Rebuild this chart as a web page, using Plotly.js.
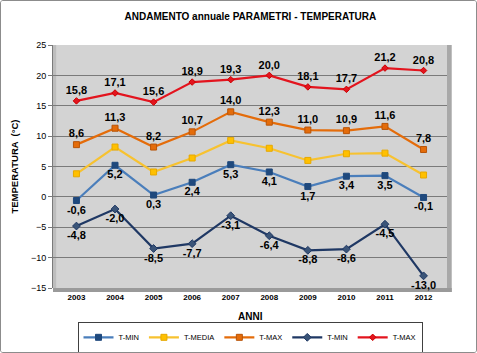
<!DOCTYPE html>
<html>
<head>
<meta charset="utf-8">
<script src="https://cdn.plot.ly/plotly-3.0.1.min.js"></script>
<style>
html,body{margin:0;padding:0;background:#fff;}
#frame{position:absolute;left:0;top:0;width:475px;height:351px;border:1px solid #8c8c8c;border-radius:3px;overflow:hidden;}
#chart{width:475px;height:351px;}
</style>
</head>
<body>
<div id="frame"><div id="chart"></div></div>
<script>
const years = ['2003','2004','2005','2006','2007','2008','2009','2010','2011','2012'];
const tMinAvg = [-0.6, 5.2, 0.3, 2.4, 5.3, 4.1, 1.7, 3.4, 3.5, -0.1];
const tMedia  = [3.8, 8.2, 4.1, 6.4, 9.3, 8.0, 6.0, 7.1, 7.2, 3.6];
const tMaxAvg = [8.6, 11.3, 8.2, 10.7, 14.0, 12.3, 11.0, 10.9, 11.6, 7.8];
const tMinAbs = [-4.8, -2.0, -8.5, -7.7, -3.1, -6.4, -8.8, -8.6, -4.5, -13.0];
const tMaxAbs = [15.8, 17.1, 15.6, 18.9, 19.3, 20.0, 18.1, 17.7, 21.2, 20.8];

const lblFont = {family:'Liberation Sans, Arial, sans-serif', size:11, color:'#000', weight:'bold'};
function series(name, y, lineColor, mColor, mLine, symbol, msize, textpos){
  const t = {
    x: years, y: y, name: name, type:'scatter',
    mode: textpos ? 'lines+markers+text' : 'lines+markers',
    line:{color:lineColor, width:2.2},
    marker:{color:mColor, size:msize, symbol:symbol, line:{color:mLine, width:1}},
    cliponaxis:false
  };
  if(textpos){ t.texttemplate='<b>%{y:.1f}</b>'; t.textposition=textpos; t.textfont=lblFont; }
  return t;
}
const data = [
  series('T-MIN', tMinAvg, '#4a7ebb', '#1f497d', '#1f497d', 'square', 6, 'bottom center'),
  series('T-MEDIA', tMedia, '#f7c230', '#ffc000', '#e6a800', 'square', 6, null),
  series('T-MAX', tMaxAvg, '#e46c0a', '#e46c0a', '#b85408', 'square', 6, 'top center'),
  series('T-MIN', tMinAbs, '#1f3864', '#3a5478', '#1f3864', 'diamond', 6, 'bottom center'),
  series('T-MAX', tMaxAbs, '#e3141e', '#e3141e', '#c00', 'diamond', 5, 'top center')
];
const layout = {
  width:475, height:351,
  margin:{l:52, r:29, t:44, b:64},
  paper_bgcolor:'#ffffff', plot_bgcolor:'#d3d3d3',
  separators:',.',
  font:{family:'Liberation Sans, Arial, sans-serif', size:9, color:'#000'},
  title:{text:'<b>ANDAMENTO annuale PARAMETRI - TEMPERATURA</b>', x:0.525, xanchor:'center', y:0.955, yanchor:'middle', font:{size:10, color:'#000'}},
  xaxis:{type:'category', automargin:false, showgrid:false, zeroline:false, showline:false, ticks:'', ticklabelstandoff:3, tickfont:{size:8, weight:'bold'}, fixedrange:true},
  yaxis:{range:[-15,25], dtick:5, automargin:false, showgrid:true, gridcolor:'#7a7a7a', gridwidth:1, zeroline:false,
    ticks:'outside', ticklen:4, tickcolor:'#7a7a7a', tickfont:{size:9}, showline:true, linecolor:'#7a7a7a',
    title:{text:'<b>TEMPERATURA  (°C)</b>', font:{size:9.5}, standoff:10}, fixedrange:true},
  annotations:[
    {text:'<b>ANNI</b>', xref:'paper', yref:'paper', x:0.5, y:-0.116, xanchor:'center', yanchor:'middle', showarrow:false, font:{size:10}}
  ],
  showlegend:true,
  legend:{orientation:'h', x:0.5, xanchor:'center', yref:'container', y:0.086, yanchor:'top', bordercolor:'#404040', borderwidth:1,
    font:{size:7.5}, itemwidth:30, tracegroupgap:0, bgcolor:'#fff'},
  shapes:[
    {type:'rect', xref:'paper', yref:'paper', x0:1, x1:1.012, y0:-0.016, y1:1, fillcolor:'#a8a8a8', line:{width:0}, layer:'below'},
    {type:'rect', xref:'paper', yref:'paper', x0:0, x1:1.012, y0:-0.016, y1:0, fillcolor:'#9a9a9a', line:{width:0}, layer:'below'},
    {type:'rect', xref:'paper', yref:'paper', x0:0, x1:0.008, y0:0, y1:1, fillcolor:'#bdbdbd', line:{width:0}, layer:'below'}
  ]
};
Plotly.newPlot('chart', data, layout, {displayModeBar:false, staticPlot:true});
</script>
</body>
</html>
